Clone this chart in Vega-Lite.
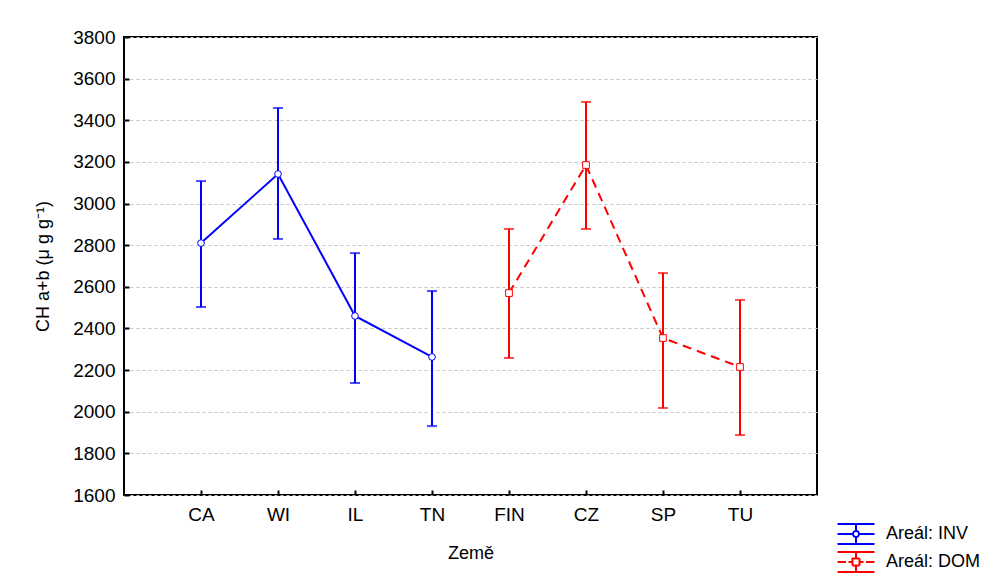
{
  "$schema": "https://vega.github.io/schema/vega-lite/v6.json",
  "width": 693,
  "height": 458,
  "autosize": "none",
  "padding": {"left": 124, "top": 37, "right": 180, "bottom": 90},
  "background": "white",
  "config": {
    "font": "Liberation Sans",
    "view": {"stroke": "black", "strokeWidth": 2},
    "axis": {
      "labelFont": "Liberation Sans",
      "titleFont": "Liberation Sans",
      "labelFontSize": 19,
      "titleFontSize": 18,
      "labelColor": "black",
      "titleColor": "black",
      "titleFontWeight": "normal",
      "domain": false,
      "tickColor": "black",
      "tickWidth": 2,
      "gridColor": "#c4c4c4",
      "gridDash": [3, 3],
      "gridWidth": 1
    }
  },
  "data": {
    "values": [
      {"country": "CA", "group": "Areál: INV", "mean": 2810, "lo": 2503, "hi": 3108},
      {"country": "WI", "group": "Areál: INV", "mean": 3142, "lo": 2830, "hi": 3459},
      {"country": "IL", "group": "Areál: INV", "mean": 2460, "lo": 2138, "hi": 2762},
      {"country": "TN", "group": "Areál: INV", "mean": 2263, "lo": 1931, "hi": 2580},
      {"country": "FIN", "group": "Areál: DOM", "mean": 2570, "lo": 2258, "hi": 2878},
      {"country": "CZ", "group": "Areál: DOM", "mean": 3185, "lo": 2878, "hi": 3488},
      {"country": "SP", "group": "Areál: DOM", "mean": 2354, "lo": 2018, "hi": 2666},
      {"country": "TU", "group": "Areál: DOM", "mean": 2215, "lo": 1888, "hi": 2537}
    ]
  },
  "encoding": {
    "x": {
      "field": "country",
      "type": "nominal",
      "sort": null,
      "scale": {"type": "point", "padding": 1},
      "axis": {"title": "Země", "labelAngle": 0, "tickSize": -5, "labelPadding": 15, "titlePadding": 20}
    },
    "color": {
      "field": "group",
      "type": "nominal",
      "scale": {"domain": ["Areál: INV", "Areál: DOM"], "range": ["#0000ff", "#ff0000"]},
      "legend": {
        "title": null,
        "orient": "none",
        "legendX": 721,
        "legendY": 486,
        "padding": 0,
        "symbolSize": 400,
        "symbolStrokeWidth": 2,
        "symbolFillColor": "white",
        "symbolOffset": 0,
        "labelOffset": 19,
        "labelFont": "Liberation Sans",
        "labelFontSize": 18,
        "labelColor": "black",
        "rowPadding": 0,
        "encode": {
          "symbols": {
            "update": {
              "shape": {"signal": "datum.value === 'Areál: INV' ? 'M-1.85,-1H1.85M-1.85,1H1.85M0,-1V-0.3M0,0.3V1M-1.85,0H-0.3M0.3,0H1.85M0.3,0A0.3,0.3 0 1,1 -0.3,0A0.3,0.3 0 1,1 0.3,0' : 'M-1.85,-1H1.85M-1.85,1H1.85M0,-1V-0.35M0,0.35V1M-1.85,0H-1.0M-0.75,0H-0.35M0.35,0H0.75M1.0,0H1.85M-0.35,-0.35H0.35V0.35H-0.35Z'"},
              "stroke": {"scale": "color", "field": "value"},
              "fillOpacity": {"value": 0},
              "strokeWidth": {"value": 2},
              "strokeDash": {"value": [1, 0]}
            }
          }
        }
      }
    }
  },
  "layer": [
    {
      "mark": {"type": "rule", "strokeWidth": 2},
      "encoding": {
        "y": {
          "field": "lo",
          "type": "quantitative",
          "scale": {"domain": [1600, 3800], "nice": false, "zero": false},
          "axis": {
            "title": "CH a+b (μ g g⁻¹)",
            "format": "d",
            "values": [1600, 1800, 2000, 2200, 2400, 2600, 2800, 3000, 3200, 3400, 3600, 3800],
            "tickSize": -5,
            "labelPadding": 14,
            "titlePadding": 20
          }
        },
        "y2": {"field": "hi"}
      }
    },
    {
      "mark": {"type": "tick", "size": 10, "thickness": 2},
      "encoding": {"y": {"field": "lo", "type": "quantitative"}}
    },
    {
      "mark": {"type": "tick", "size": 10, "thickness": 2},
      "encoding": {"y": {"field": "hi", "type": "quantitative"}}
    },
    {
      "transform": [{"filter": "datum.group === 'Areál: INV'"}],
      "mark": {"type": "line", "strokeWidth": 2},
      "encoding": {"y": {"field": "mean", "type": "quantitative"}}
    },
    {
      "transform": [{"filter": "datum.group === 'Areál: DOM'"}],
      "mark": {"type": "line", "strokeWidth": 2, "strokeDash": [9, 6]},
      "encoding": {"y": {"field": "mean", "type": "quantitative"}}
    },
    {
      "transform": [{"filter": "datum.group === 'Areál: INV'"}],
      "mark": {"type": "point", "shape": "circle", "filled": false, "fill": "white", "fillOpacity": 1, "strokeWidth": 1, "size": 45, "opacity": 1},
      "encoding": {"y": {"field": "mean", "type": "quantitative"}}
    },
    {
      "transform": [{"filter": "datum.group === 'Areál: DOM'"}],
      "mark": {"type": "point", "shape": "square", "filled": false, "fill": "white", "fillOpacity": 1, "strokeWidth": 1, "size": 45, "opacity": 1},
      "encoding": {"y": {"field": "mean", "type": "quantitative"}}
    }
  ]
}
